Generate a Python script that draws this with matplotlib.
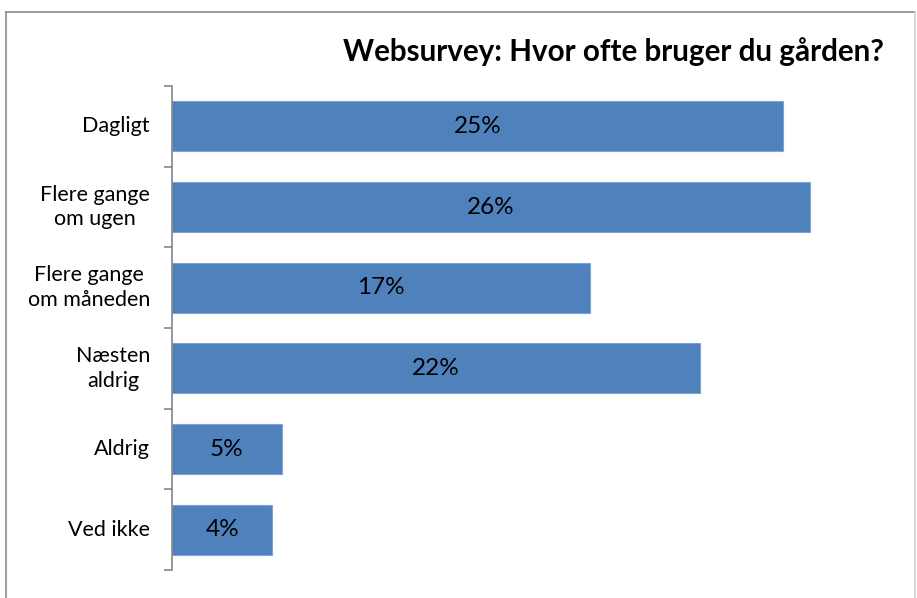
import matplotlib.pyplot as plt
from matplotlib.lines import Line2D
from matplotlib.transforms import blended_transform_factory
import numpy as np

plt.rcParams['font.family'] = ['Lato', 'DejaVu Sans']

categories = ['Dagligt', 'Flere gange\nom ugen', 'Flere gange\nom måneden',
              'Næsten\naldrig', 'Aldrig', 'Ved ikke']
values = [25.0, 26.1, 17.1, 21.6, 4.5, 4.1]
labels = ['25%', '26%', '17%', '22%', '5%', '4%']

W, H = 917, 598
fig = plt.figure(figsize=(W / 100, H / 100), dpi=100)
ax = fig.add_axes([172 / W, 1 - 570 / H, (856 - 172) / W, (570 - 86) / H])

y = np.arange(len(categories))
ax.barh(y, values, height=0.62, color='#4F81BD', edgecolor='#7FA4D3', linewidth=0.8)
for yi, v, lab in zip(y, values, labels):
    ax.text(v / 2, yi, lab, ha='center', va='center', fontsize=17.5, color='black')

# category labels, right edge of the block near the axis, lines centred
tr = blended_transform_factory(fig.transFigure, ax.transData)
for yi, cat in zip(y, categories):
    ax.text(150 / W, yi, cat, transform=tr, ha='right', va='center',
            multialignment='center', fontsize=15.5, linespacing=1.3)

ax.set_xlim(0, 28)
ax.set_ylim(len(categories) - 0.5, -0.5)
ax.set_yticks(np.arange(-0.5, len(categories)))
ax.set_yticklabels([])
ax.tick_params(axis='y', length=5.5, width=1.2, color='#868686')
ax.set_xticks([])
for s in ['top', 'right', 'bottom']:
    ax.spines[s].set_visible(False)
ax.spines['left'].set_color('#868686')
ax.spines['left'].set_linewidth(1.2)

fig.text(884 / W, 1 - 52 / H, 'Websurvey: Hvor ofte bruger du gården?',
         ha='right', va='center', fontsize=21.3, fontweight='bold')

# chart border
bc = '#8C8C8C'
fig.add_artist(Line2D([6 / W, 6 / W], [0, 1 - 12 / H], color=bc, lw=1.2))
fig.add_artist(Line2D([6 / W, 915 / W], [1 - 12 / H, 1 - 12 / H], color=bc, lw=1.2))
fig.add_artist(Line2D([915 / W, 915 / W], [0, 1 - 12 / H], color='#D0D0D0', lw=1.2))

fig.savefig('out.png', dpi=100)
